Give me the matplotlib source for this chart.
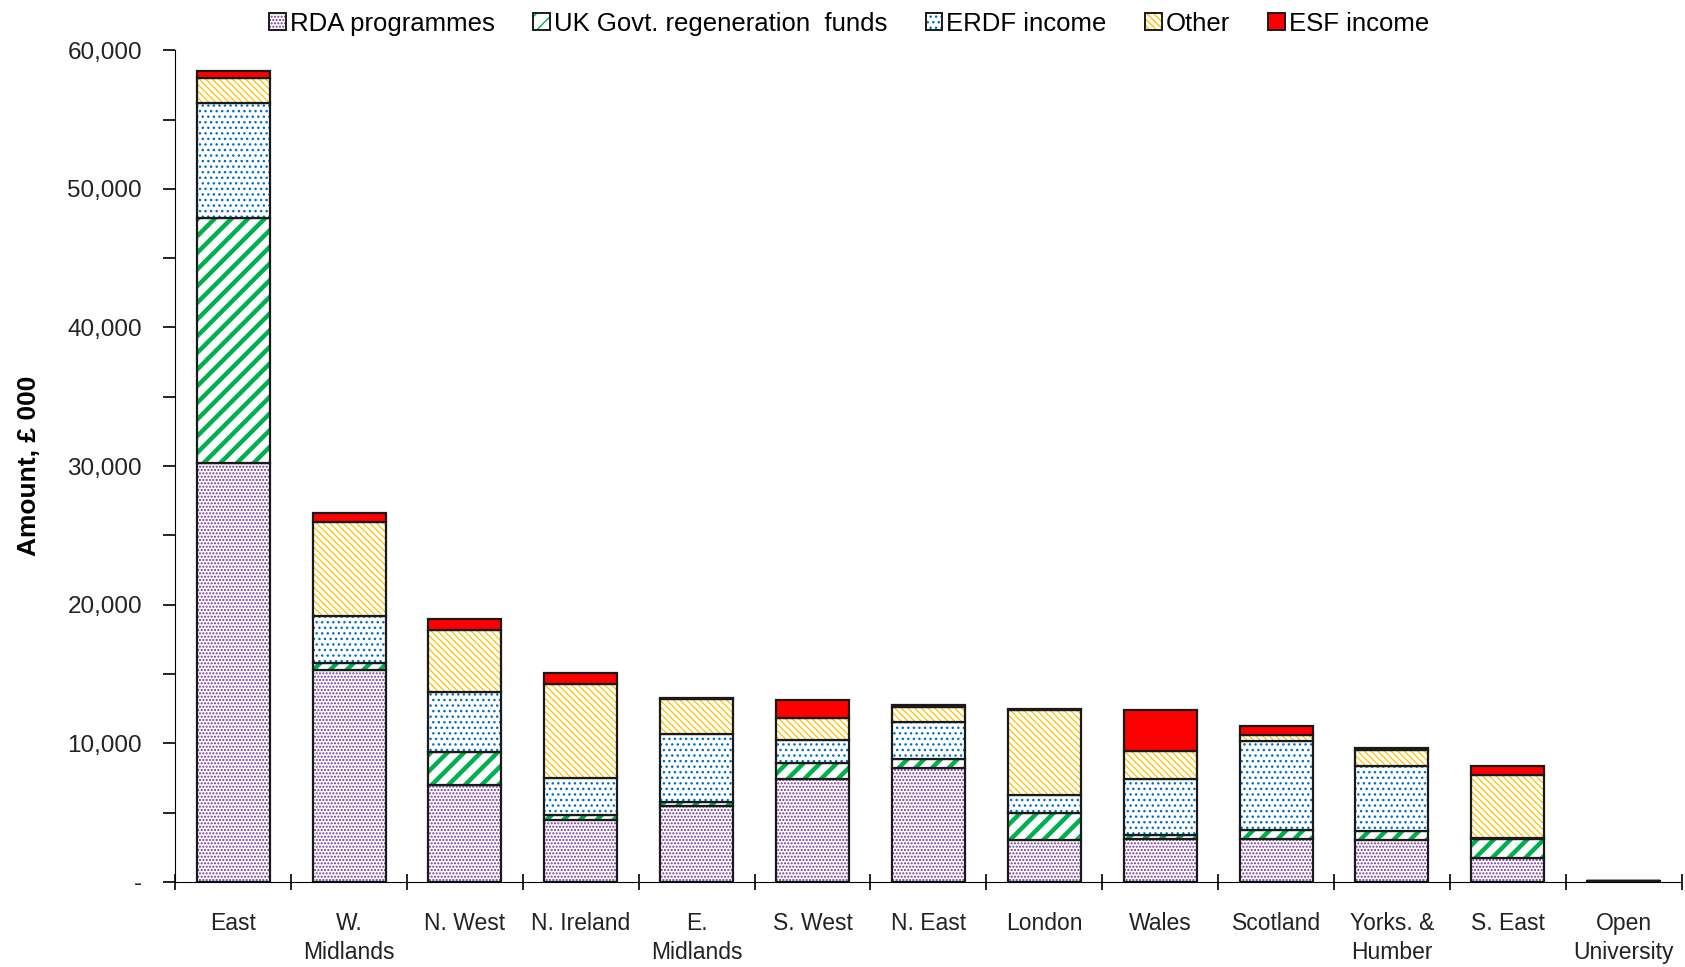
import numpy as np
import matplotlib
matplotlib.use('Agg')
import matplotlib.pyplot as plt
from matplotlib.patches import Patch
from matplotlib.ticker import FuncFormatter, MultipleLocator

plt.rcParams['font.family'] = ['Liberation Sans', 'DejaVu Sans']

regions = ['East', 'W.\nMidlands', 'N. West', 'N. Ireland', 'E.\nMidlands',
           'S. West', 'N. East', 'London', 'Wales', 'Scotland',
           'Yorks. &\nHumber', 'S. East', 'Open\nUniversity']

# amounts in £ 000
rda = [30200, 15300, 7000, 4500, 5500, 7400, 8200, 3000, 3100, 3100, 3000, 1700, 30]
uk_govt = [17700, 500, 2400, 300, 300, 1150, 650, 2000, 250, 650, 650, 1400, 0]
erdf = [8300, 3400, 4300, 2700, 4900, 1700, 2700, 1300, 4100, 6400, 4700, 100, 0]
other = [1800, 6800, 4500, 6800, 2500, 1600, 1050, 6100, 2000, 450, 1150, 4500, 0]
esf = [500, 600, 800, 800, 100, 1300, 150, 100, 2950, 650, 150, 650, 0]

series_names = ['RDA programmes', 'UK Govt. regeneration  funds', 'ERDF income', 'Other', 'ESF income']
series_vals = [rda, uk_govt, erdf, other, esf]
colours = ['#7030A0', '#00B050', '#0070C0', '#FFC000', '#FF0000']
hatches = ['.....', '//', '...', '\\\\\\\\\\', None]
hatch_lw = [1.0, 3.2, 1.0, 0.9, 1.0]

fig, ax = plt.subplots(figsize=(16.85, 9.67), dpi=100)
fig.subplots_adjust(left=0.104, right=0.998, bottom=0.088, top=0.948)

x = np.arange(len(regions))
width = 0.63
bottom = np.zeros(len(regions))
handles = []
for name, vals, col, hatch, hlw in zip(series_names, series_vals, colours, hatches, hatch_lw):
    vals = np.array(vals, dtype=float)
    with plt.rc_context({'hatch.linewidth': hlw}):
        if hatch:
            bars = ax.bar(x, vals, width, bottom=bottom, color='white', edgecolor=col,
                          linewidth=0, hatch=hatch)
            h1 = Patch(facecolor='white', edgecolor=col, linewidth=0, hatch=hatch)
        else:
            bars = ax.bar(x, vals, width, bottom=bottom, color=col, linewidth=0)
            h1 = Patch(facecolor=col, linewidth=0)
    for p in list(bars) + [h1]:
        if hasattr(p, 'set_hatch_linewidth'):
            p.set_hatch_linewidth(hlw)
    ax.bar(x, vals, width, bottom=bottom, fill=False, edgecolor='#1a1a1a', linewidth=1.6)
    handles.append((h1, Patch(fill=False, edgecolor='#1a1a1a', linewidth=1.4)))
    bottom += vals

ax.set_xlim(-0.5, len(regions) - 0.5)
ax.set_ylim(0, 60000)
ax.spines['top'].set_visible(False)
ax.spines['right'].set_visible(False)

ax.set_xticks(x)
ax.set_xticklabels(regions, fontsize=16.5, color='#222222', linespacing=1.3)
ax.tick_params(axis='x', which='major', length=0, pad=22)
ax.set_xticks(np.arange(len(regions) + 1) - 0.5, minor=True)
ax.tick_params(axis='x', which='minor', direction='inout', length=12, width=1.2)

ax.yaxis.set_major_locator(MultipleLocator(10000))
ax.yaxis.set_minor_locator(MultipleLocator(5000))
ax.yaxis.set_major_formatter(FuncFormatter(lambda v, p: '-' if v == 0 else f'{int(v):,}'))
ax.tick_params(axis='y', which='both', direction='out', length=9, width=1.2,
               labelsize=17.5, labelcolor='#222222', pad=15)
ax.set_ylabel('Amount, £ 000', fontsize=19, fontweight='bold', labelpad=19)

fig.legend(handles, series_names, loc='upper center', bbox_to_anchor=(0.504, 1.012), ncol=5,
           frameon=False, fontsize=18.5, handlelength=0.65, handleheight=0.65,
           handletextpad=0.15, columnspacing=1.5)

fig.savefig('out.png', dpi=100)
